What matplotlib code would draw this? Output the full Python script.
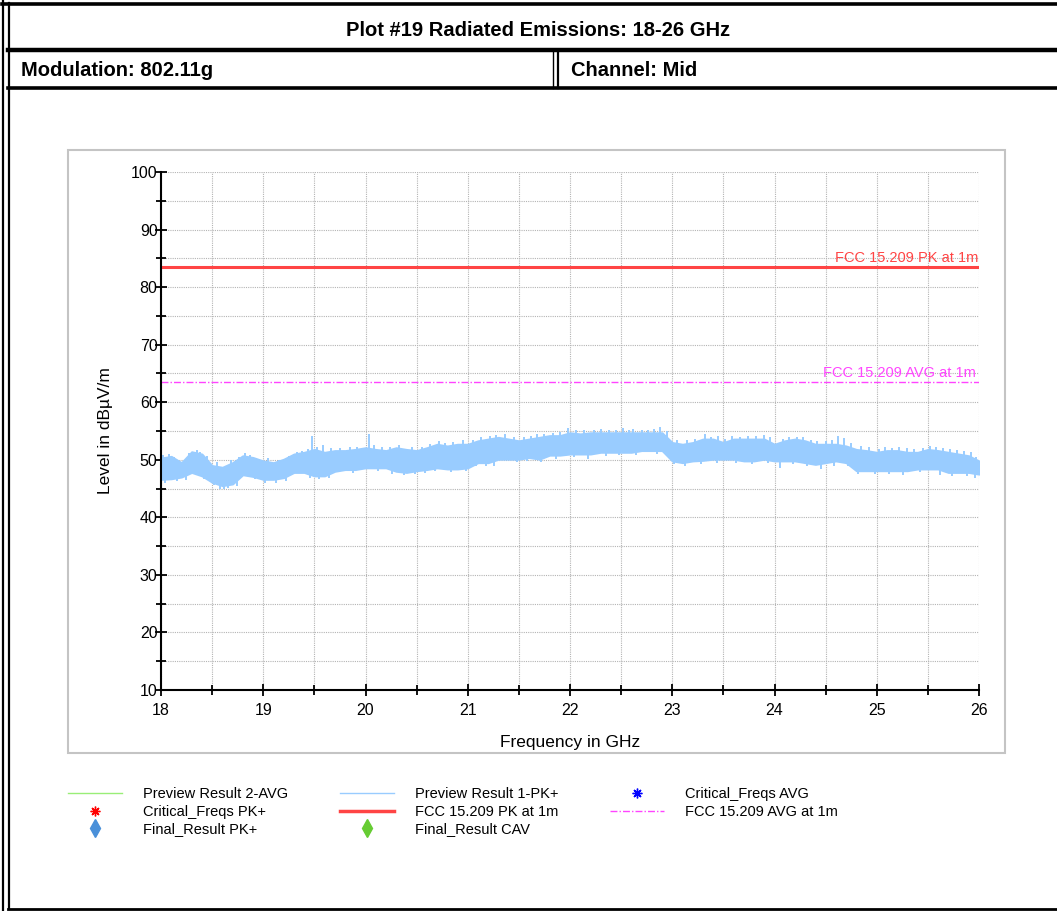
import numpy as np
import matplotlib
matplotlib.use('Agg')
import matplotlib.pyplot as plt
from matplotlib.lines import Line2D
from matplotlib.patches import Rectangle
from matplotlib.ticker import MultipleLocator

W, H = 1057, 911

# --- data -----------------------------------------------------------------
freq_ghz = np.round(np.arange(180, 261) / 10, 1)   # 0.1 GHz sampling grid

# envelope of the Preview Result 1-PK+ trace (dBuV/m)
pk_upper = [
    50.3, 50.6, 49.5, 51.4, 51.0, 49.0, 48.7, 49.5, 50.7, 50.4,   # 18.0-18.9
    49.8, 49.5, 50.1, 51.0, 51.3, 51.8, 51.3, 51.6, 51.6, 51.8,   # 19.0-19.9
    52.1, 51.8, 51.6, 52.1, 51.8, 51.6, 52.1, 52.7, 52.4, 52.7,   # 20.0-20.9
    52.7, 53.3, 53.6, 53.9, 53.6, 53.3, 53.6, 53.9, 54.2, 54.2,   # 21.0-21.9
    54.7, 54.5, 54.7, 54.7, 54.7, 54.7, 54.7, 54.7, 54.7, 54.7,   # 22.0-22.9
    53.0, 52.7, 53.0, 53.6, 53.6, 53.0, 53.6, 53.6, 53.6, 53.6,   # 23.0-23.9
    52.7, 53.3, 53.6, 53.3, 52.7, 52.7, 52.7, 52.4, 51.8, 51.6,   # 24.0-24.9
    51.3, 51.6, 51.6, 51.3, 51.3, 51.8, 51.6, 51.3, 51.0, 50.7,   # 25.0-25.9
    49.8,                                                         # 26.0
]
pk_lower = [
    46.6, 46.7, 47.0, 47.8, 47.2, 46.1, 45.5, 45.8, 47.4, 47.1,
    46.6, 46.6, 46.9, 47.8, 47.8, 47.2, 47.2, 48.0, 48.3, 48.3,
    48.6, 48.6, 48.6, 48.0, 47.8, 48.1, 48.3, 48.6, 48.4, 48.4,
    48.6, 49.5, 49.5, 50.1, 50.1, 50.1, 50.4, 50.1, 50.8, 50.8,
    51.0, 51.0, 51.0, 51.3, 51.3, 51.3, 51.3, 51.6, 51.6, 51.6,
    49.8, 49.5, 49.8, 49.9, 50.1, 50.1, 50.1, 49.8, 49.8, 50.1,
    49.8, 49.8, 49.8, 49.5, 49.2, 49.5, 49.8, 49.5, 48.1, 48.1,
    48.1, 48.1, 48.1, 48.1, 48.4, 48.4, 48.4, 47.8, 47.8, 47.8,
    47.5,
]
# peaks sticking out above the band (GHz, dBuV/m)
peak_freq = [
    18.02, 18.08, 18.13, 18.27, 18.35, 18.38, 18.45, 18.55, 18.68, 18.76,
    18.82, 18.87, 19.05, 19.15, 19.25, 19.33, 19.38, 19.44, 19.48, 19.53,
    19.58, 19.66, 19.75, 19.85, 19.92, 20.03, 20.08, 20.16, 20.24, 20.33,
    20.45, 20.55, 20.63, 20.72, 20.78, 20.86, 20.95, 21.05, 21.13, 21.22,
    21.28, 21.36, 21.45, 21.55, 21.62, 21.68, 21.75, 21.83, 21.90, 21.98,
    22.06, 22.14, 22.23, 22.30, 22.38, 22.45, 22.52, 22.58, 22.62, 22.70,
    22.76, 22.82, 22.88, 22.95, 23.05, 23.14, 23.22, 23.32, 23.38, 23.45,
    23.52, 23.58, 23.66, 23.74, 23.82, 23.90, 23.96, 24.08, 24.14, 24.22,
    24.28, 24.36, 24.42, 24.50, 24.56, 24.62, 24.68, 24.75, 24.85, 24.92,
    25.02, 25.08, 25.15, 25.22, 25.30, 25.36, 25.45, 25.52, 25.58, 25.65,
    25.72, 25.78, 25.85, 25.92, 25.97,
]
peak_level = [
    50.9, 51.0, 50.4, 51.2, 51.7, 51.4, 50.6, 49.6, 49.9, 50.4,
    51.1, 50.9, 50.3, 50.0, 50.6, 51.4, 51.6, 51.9, 54.2, 52.3,
    52.6, 52.0, 52.1, 52.2, 52.3, 54.5, 52.5, 52.3, 52.2, 52.6,
    52.3, 52.2, 52.8, 53.3, 53.0, 53.1, 53.5, 53.4, 53.9, 54.1,
    54.3, 54.4, 54.0, 53.9, 54.1, 54.5, 54.4, 54.7, 54.8, 55.6,
    55.1, 55.2, 55.2, 55.3, 55.1, 55.2, 55.5, 55.1, 55.3, 55.2,
    55.2, 55.3, 55.7, 55.0, 53.5, 53.4, 53.6, 54.5, 54.0, 54.1,
    53.6, 54.1, 54.0, 54.2, 54.1, 54.3, 53.9, 53.6, 54.0, 54.0,
    53.9, 53.5, 53.3, 53.2, 53.4, 54.2, 53.8, 53.0, 52.4, 52.2,
    51.9, 52.2, 52.0, 52.2, 52.0, 51.9, 52.1, 52.4, 52.2, 52.0,
    51.9, 51.7, 51.5, 51.3, 50.5,
]
# dips reaching below the band
dip_freq = [
    18.04, 18.16, 18.24, 18.42, 18.52, 18.58, 18.62, 18.66, 18.74, 18.92,
    19.02, 19.12, 19.22, 19.46, 19.55, 19.64, 19.88, 20.12, 20.26, 20.38,
    20.48, 20.58, 20.68, 20.84, 20.98, 21.08, 21.18, 21.26, 21.48, 21.58,
    21.72, 21.86, 22.04, 22.18, 22.35, 22.48, 22.65, 22.85, 23.02, 23.12,
    23.28, 23.44, 23.62, 23.78, 23.94, 24.05, 24.18, 24.32, 24.45, 24.58,
    24.72, 24.82, 24.98, 25.12, 25.26, 25.42, 25.62, 25.74, 25.88, 25.96,
]
dip_level = [
    46.0, 46.3, 46.5, 46.6, 45.6, 45.0, 44.9, 45.1, 45.4, 46.6,
    45.9, 46.0, 46.3, 46.8, 46.7, 46.8, 47.7, 48.0, 47.5, 47.3,
    47.5, 47.7, 48.0, 47.9, 48.0, 48.9, 49.0, 48.9, 49.6, 49.8,
    49.6, 50.2, 50.5, 50.2, 50.7, 50.8, 50.8, 51.0, 49.2, 48.9,
    49.3, 49.5, 49.5, 49.2, 49.5, 48.6, 49.2, 48.9, 48.4, 49.0,
    48.9, 47.5, 47.5, 47.5, 47.4, 47.8, 47.4, 47.2, 47.2, 46.9,
]

pk_limit = 83.5
avg_limit = 63.5

y_ticks = [10, 20, 30, 40, 50, 60, 70, 80, 90, 100]
x_ticks = [18, 19, 20, 21, 22, 23, 24, 25, 26]

title = 'Plot #19 Radiated Emissions: 18-26 GHz'
modulation = 'Modulation: 802.11g'
channel = 'Channel: Mid'

# --- figure ---------------------------------------------------------------
plt.rcParams['font.family'] = ['Liberation Sans', 'DejaVu Sans']
fig = plt.figure(figsize=(W / 100, H / 100), dpi=100)


def fx(x):
    return x / W


def fy(y):
    return 1 - y / H


def hline(y, x0, x1, lw):
    fig.add_artist(Line2D([fx(x0), fx(x1)], [fy(y), fy(y)], color='black', lw=lw))


def vline(x, y0, y1, lw):
    fig.add_artist(Line2D([fx(x), fx(x)], [fy(y0), fy(y1)], color='black', lw=lw))


# report table frame
vline(2.5, 0, H, 1.6)
vline(8.5, 3, 909, 1.6)
hline(3.5, 2, W, 2.6)
hline(50, 8, W, 3.2)
hline(88, 8, W, 2.6)
vline(553, 50, 88, 1.0)
vline(557.5, 50, 88, 1.6)
hline(908.5, 8, W, 2.0)

fig.text(fx(538), fy(31), title, ha='center', va='center', fontsize=14.5,
         fontweight='bold')
fig.text(fx(21), fy(71), modulation, ha='left', va='center', fontsize=14.5,
         fontweight='bold')
fig.text(fx(571), fy(71), channel, ha='left', va='center', fontsize=14.5,
         fontweight='bold')

# grey chart frame
fig.add_artist(Rectangle((fx(68), fy(753)), fx(1005) - fx(68), fy(150) - fy(753),
                         transform=fig.transFigure, fill=False,
                         edgecolor='#c4c4c4', lw=1.5))

ax = fig.add_axes([fx(161), fy(690), fx(979) - fx(161), fy(172) - fy(690)])

trace_color = '#99ccff'
ax.fill_between(freq_ghz, pk_lower, pk_upper, color=trace_color, lw=1.4,
                edgecolor=trace_color)
ax.vlines(peak_freq, [v - 2.5 for v in peak_level], peak_level,
          color=trace_color, lw=1.4)
ax.vlines(dip_freq, dip_level, [v + 2.5 for v in dip_level],
          color=trace_color, lw=1.4)

pk_color = '#ff4444'
avg_color = '#ff44ff'
ax.axhline(pk_limit, color=pk_color, lw=2.2)
ax.axhline(avg_limit, color=avg_color, lw=1.0, ls=(0, (5, 1.5, 1, 1.5)))
ax.text(25.99, pk_limit + 0.3, 'FCC 15.209 PK at 1m', color=pk_color,
        ha='right', va='bottom', fontsize=10.5)
ax.text(25.97, avg_limit + 0.3, 'FCC 15.209 AVG at 1m', color=avg_color,
        ha='right', va='bottom', fontsize=10.5)

ax.set_xlim(18, 26)
ax.set_ylim(10, 100)
ax.set_xticks(x_ticks)
ax.set_yticks(y_ticks)
ax.xaxis.set_minor_locator(MultipleLocator(0.5))
ax.yaxis.set_minor_locator(MultipleLocator(5))
ax.grid(True, which='both', color='#b4b4b4', ls=(0, (1, 1)), lw=0.8)
ax.set_axisbelow(True)
for s in ('top', 'right'):
    ax.spines[s].set_visible(False)
for s in ('left', 'bottom'):
    ax.spines[s].set_linewidth(1.5)
ax.tick_params(which='major', direction='inout', length=9, width=1.3,
               labelsize=11.5)
ax.tick_params(axis='y', which='major', pad=-2)
ax.tick_params(axis='x', which='major', pad=5)
ax.tick_params(which='minor', direction='inout', length=7, width=1.3)
ax.set_xlabel('Frequency in GHz', fontsize=12.5, labelpad=12)
ax.set_ylabel('Level in dBµV/m', fontsize=12.5, labelpad=13)

# legend, three columns
def legend_col(handles, labels, x_px):
    fig.legend(handles, labels, loc='upper left',
               bbox_to_anchor=(fx(x_px), fy(787)), frameon=False,
               borderpad=0, borderaxespad=0, handlelength=3.7,
               handletextpad=1.45, labelspacing=0.25, fontsize=10.5)


ast = (8, 2, 0)
legend_col([Line2D([], [], color='#99ee77', lw=1.0),
            Line2D([], [], ls='', marker=ast, color='red', ms=7, mew=1),
            Line2D([], [], ls='', marker='d', color='#4a90d9', ms=9)],
           ['Preview Result 2-AVG', 'Critical_Freqs PK+', 'Final_Result PK+'], 68)
legend_col([Line2D([], [], color=trace_color, lw=1.0),
            Line2D([], [], color=pk_color, lw=2.5),
            Line2D([], [], ls='', marker='d', color='#66cc33', ms=9)],
           ['Preview Result 1-PK+', 'FCC 15.209 PK at 1m', 'Final_Result CAV'], 340)
legend_col([Line2D([], [], ls='', marker=ast, color='#0000ff', ms=7, mew=1),
            Line2D([], [], color=avg_color, lw=1.0, ls=(0, (5, 1.5, 1, 1.5)))],
           ['Critical_Freqs AVG', 'FCC 15.209 AVG at 1m'], 610)

fig.savefig('out.png', dpi=100)
